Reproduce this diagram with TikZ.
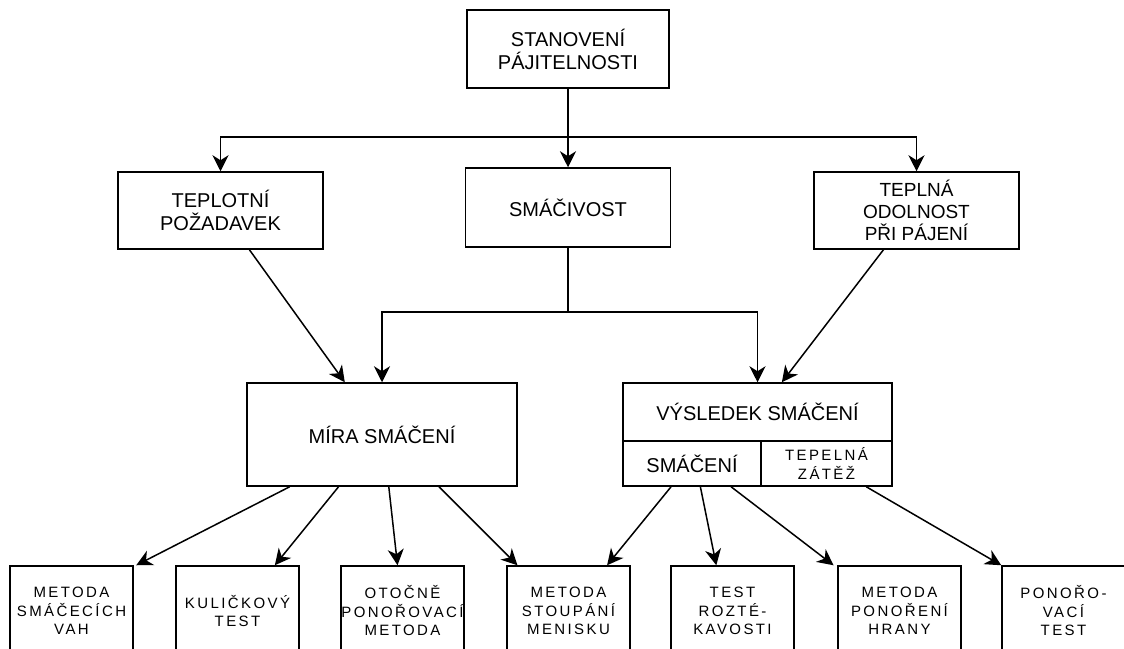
\documentclass[tikz,border=0pt]{standalone}
\usepackage{fontspec}
\setmainfont{Liberation Sans}
\newfontfamily\spfont[LetterSpace=16]{Liberation Sans}
\usetikzlibrary{arrows.meta,calc}
\begin{document}
\begin{tikzpicture}[x=1pt,y=-1pt,
  bx/.style={draw, line width=1.5pt, inner sep=0pt, align=center, font=\fontsize{20}{23}\selectfont},
  bxsm/.style={bx, font=\spfont\fontsize{15}{18.5}\selectfont},
  arr/.style={line width=1.5pt, -{Stealth[length=16pt,width=16pt,inset=5pt]}},
  ln/.style={line width=1.5pt}]
\useasboundingbox (0,0) rectangle (1124,648);
\fill[white] (0,0) rectangle (1124,648);
\clip (0,0) rectangle (1124,648);

% top level
\node[bx, minimum width=202pt, minimum height=78pt] (root) at (568,49) {STANOVENÍ\\PÁJITELNOSTI};
\node[bx, minimum width=205pt, minimum height=77pt] (tep) at (220.5,210.5) {TEPLOTNÍ\\POŽADAVEK};
\node[bx, minimum width=205pt, minimum height=79pt] (smac) at (568,207.5) {SMÁČIVOST};
\node[bx, minimum width=205pt, minimum height=77pt, font=\fontsize{19}{21.7}\selectfont] (tepl) at (916.5,210.5) {TEPLNÁ\\ODOLNOST\\PŘI PÁJENÍ};

% middle level
\node[bx, minimum width=270pt, minimum height=103pt] (mira) at (382,434.5) {MÍRA SMÁČENÍ};
\node[bx, minimum width=269pt, minimum height=58pt] (vystop) at (757.5,412) {VÝSLEDEK SMÁČENÍ};
\node[bx, minimum width=138pt, minimum height=45pt] (vysl) at (692,463.5) {SMÁČENÍ};
\node[bxsm, minimum width=131pt, minimum height=45pt, font=\spfont\fontsize{15}{19.5}\selectfont] (vysr) at (826.5,463.5) {TEPELNÁ\\ZÁTĚŽ};

% bottom level
\node[bxsm, minimum width=123pt, minimum height=90pt] (b1) at (71.5,611) {METODA\\SMÁČECÍCH\\VAH};
\node[bxsm, minimum width=123pt, minimum height=90pt] (b2) at (237.5,611) {KULIČKOVÝ\\TEST};
\node[bxsm, minimum width=123pt, minimum height=90pt] (b3) at (402.5,611) {OTOČNĚ\\PONOŘOVACÍ\\METODA};
\node[bxsm, minimum width=123pt, minimum height=90pt] (b4) at (568.5,611) {METODA\\STOUPÁNÍ\\MENISKU};
\node[bxsm, minimum width=123pt, minimum height=90pt] (b5) at (732.5,611) {TEST\\ROZTÉ-\\KAVOSTI};
\node[bxsm, minimum width=123pt, minimum height=90pt] (b6) at (899.5,611) {METODA\\PONOŘENÍ\\HRANY};
\node[bxsm, minimum width=123pt, minimum height=90pt] (b7) at (1063.5,611) {PONOŘO-\\VACÍ\\TEST};

% connectors top
\coordinate (j1) at (568,137);
\draw[ln] (root.south) -- (j1);
\draw[arr] (j1) -| (tep.north);
\draw[arr] (j1) -| (tepl.north);
\draw[arr] (j1) -- (smac.north);

% smacivost split
\coordinate (j2) at (568,312);
\draw[ln] (smac.south) -- (j2);
\draw[arr] (j2) -| (mira.north);
\draw[arr] (j2) -| (vystop.north);

% diagonals
\draw[arr] ($(tep.south west)!0.64!(tep.south east)$) -- ($(mira.north west)!0.363!(mira.north east)$);
\draw[arr] ($(tepl.south west)!0.34!(tepl.south east)$) -- ($(vystop.north west)!0.59!(vystop.north east)$);

% bottom arrows from mira
\draw[arr] ($(mira.south west)!0.16!(mira.south east)$) -- ($(b1.north west)!1.02!(b1.north east)$);
\draw[arr] ($(mira.south west)!0.34!(mira.south east)$) -- ($(b2.north west)!0.80!(b2.north east)$);
\draw[arr] ($(mira.south west)!0.525!(mira.south east)$) -- ($(b3.north west)!0.46!(b3.north east)$);
\draw[arr] ($(mira.south west)!0.71!(mira.south east)$) -- ($(b4.north west)!0.09!(b4.north east)$);

% bottom arrows from vysledek
\draw[arr] ($(vysl.south west)!0.35!(vysl.south east)$) -- ($(b4.north west)!0.81!(b4.north east)$);
\draw[arr] ($(vysl.south west)!0.56!(vysl.south east)$) -- ($(b5.north west)!0.37!(b5.north east)$);
\draw[arr] ($(vysl.south west)!0.78!(vysl.south east)$) -- ($(b6.north west)!-0.03!(b6.north east)$);
\draw[arr] ($(vysr.south west)!0.80!(vysr.south east)$) -- (b7.north west);
\end{tikzpicture}
\end{document}
